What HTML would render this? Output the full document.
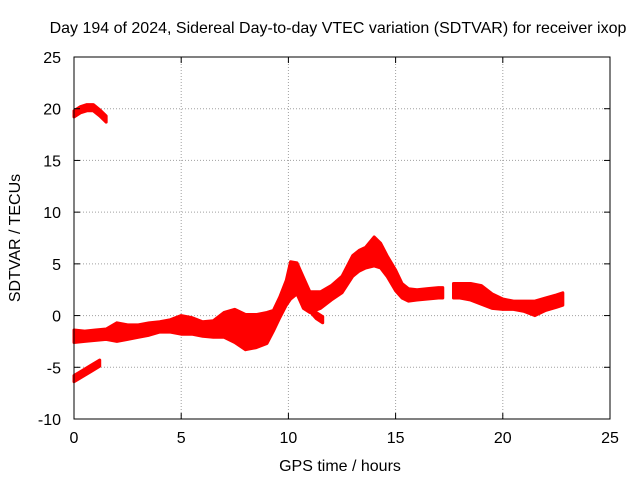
<!DOCTYPE html>
<html><head><meta charset="utf-8"><style>
body{margin:0;background:#fff}
svg text{font-family:"Liberation Sans",sans-serif;font-size:16px;fill:#000}
</style></head><body>
<svg id="chart" width="640" height="480" viewBox="0 0 640 480" xmlns="http://www.w3.org/2000/svg">
<rect width="640" height="480" fill="#fff"/>
<g id="grid"></g>
<g id="series"></g>
<rect x="74" y="57" width="536" height="362" fill="none" stroke="#000" stroke-width="1"/>
<g id="ticks"></g>
<text x="338" y="33" text-anchor="middle">Day 194 of 2024, Sidereal Day-to-day VTEC variation (SDTVAR) for receiver ixop</text>
<text x="340" y="471" text-anchor="middle">GPS time / hours</text>
<text transform="translate(20,238) rotate(-90)" text-anchor="middle">SDTVAR / TECUs</text>
</svg>
<script>
const xTicks=[0,5,10,15,20,25];
const yTicks=[-10,-5,0,5,10,15,20,25];
// main band
const mainT=[0,0.5,1,1.5,2,2.5,3,3.5,4,4.5,5,5.5,6,6.5,7,7.5,8,8.5,9,9.3,9.6,9.9,10.1,10.4,10.7,11,11.5,12,12.5,13,13.3,13.6,14,14.3,14.6,15,15.3,15.6,16,16.5,17,17.2];
const mainV=[-2,-2,-1.9,-1.8,-1.6,-1.6,-1.5,-1.3,-1.1,-1,-0.9,-1,-1.3,-1.3,-0.9,-1,-1.6,-1.5,-1.2,-0.5,0.8,2.2,3.4,3.6,2.2,1.3,1.5,2.2,3,4.8,5.3,5.6,6.2,5.8,4.8,3.4,2.4,2,2,2.1,2.2,2.2];
const mainW=[0.6,0.5,0.5,0.5,0.9,0.7,0.6,0.6,0.5,0.6,0.9,0.8,0.7,0.8,1.2,1.6,1.7,1.6,1.5,1,1,1.2,1.8,1.5,1.5,1,0.8,0.7,0.8,1,1,1,1.4,1.2,1,1,0.7,0.6,0.5,0.5,0.5,0.5];
const tailT=[17.7,18,18.5,19,19.5,20,20.5,21,21.5,22,22.5,22.8];
const tailV=[2.4,2.4,2.3,2,1.4,1.1,1,0.9,0.7,1.1,1.4,1.6];
const tailW=[0.7,0.7,0.8,0.9,0.7,0.5,0.4,0.5,0.7,0.6,0.6,0.6];
const branchT=[10.2,10.6,11,11.3,11.6];
const branchV=[3.5,2,0.8,0,-0.4];
const branchW=[0.4,0.4,0.4,0.3,0.3];
const topT=[0,0.3,0.6,0.9,1.2,1.5];
const topV=[19.5,19.9,20.1,20.1,19.6,19];
const topW=[0.3,0.3,0.3,0.3,0.3,0.3];
const lowT=[0,0.4,0.8,1.2];
const lowV=[-6.1,-5.6,-5.1,-4.6];
const lowW=[0.3,0.3,0.3,0.3];
const x0=74,x1=610,y0=419,y1=57;
const xs=v=>x0+(v-0)/25*(x1-x0);
const ys=v=>y0-(v+10)/35*(y0-y1);
const NS="http://www.w3.org/2000/svg";
const grid=document.getElementById('grid'),ticks=document.getElementById('ticks'),ser=document.getElementById('series');
function mk(tag,attrs,parent){const e=document.createElementNS(NS,tag);for(const k in attrs)e.setAttribute(k,attrs[k]);parent.appendChild(e);return e;}
xTicks.forEach(t=>{
 const x=xs(t);
 if(t>0&&t<25){const g=mk('line',{x1:x,x2:x,y1:y0,y2:y1,stroke:'#a0a0a0','stroke-dasharray':'1,2'},grid);
 
 }
 mk('line',{x1:x,x2:x,y1:y0,y2:y0-6,stroke:'#000'},ticks);
 mk('line',{x1:x,x2:x,y1:y1,y2:y1+6,stroke:'#000'},ticks);
 const l=mk('text',{x:x,y:y0+24,'text-anchor':'middle'},ticks);l.textContent=t;
 
 
});
yTicks.forEach(t=>{
 const y=ys(t);
 if(t>-10&&t<25){const g=mk('line',{x1:x0,x2:x1,y1:y,y2:y,stroke:'#a0a0a0','stroke-dasharray':'1,2'},grid);
 
 }
 mk('line',{x1:x0,x2:x0+6,y1:y,y2:y,stroke:'#000'},ticks);
 mk('line',{x1:x1,x2:x1-6,y1:y,y2:y,stroke:'#000'},ticks);
 const l=mk('text',{x:x0-13,y:y+6,'text-anchor':'end'},ticks);l.textContent=t;
 
 
});
function band(T,V,W,name){
 const up=T.map((t,i)=>xs(t)+','+ys(V[i]+W[i]));
 const dn=T.map((t,i)=>xs(t)+','+ys(V[i]-W[i])).reverse();
 const p=mk('polygon',{points:up.concat(dn).join(' '),fill:'#f00',stroke:'#f00','stroke-width':3,'stroke-linejoin':'round'},ser);
 
 
}
band(mainT,mainV,mainW,'band-main');
band(tailT,tailV,tailW,'band-tail');
band(branchT,branchV,branchW,'band-branch');
band(topT,topV,topW,'band-top');
band(lowT,lowV,lowW,'band-low');
</script>
</body></html>
